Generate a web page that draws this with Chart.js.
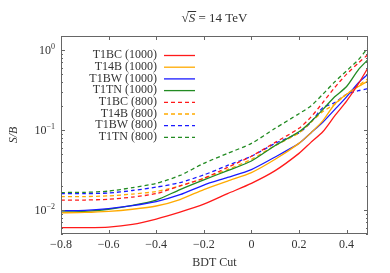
<!DOCTYPE html>
<html>
<head>
<meta charset="utf-8">
<script src="https://cdn.jsdelivr.net/npm/chart.js@4.4.1/dist/chart.umd.min.js"></script>
<style>
  html, body { margin: 0; padding: 0; background: #fff; }
</style>
</head>
<body>
<canvas id="sbChart" width="390" height="273"></canvas>
<script>
// BDT cut values (x) and S/B for each signal sample
const bdtCut   = [-0.8, -0.7, -0.6, -0.5, -0.4, -0.3, -0.2, -0.1, 0, 0.1, 0.2, 0.25, 0.3, 0.35, 0.4, 0.45, 0.49];
const t1bc1000 = [0.0060, 0.0060, 0.0061, 0.0066, 0.0077, 0.0094, 0.0118, 0.0160, 0.0215, 0.031, 0.051, 0.070, 0.095, 0.15, 0.23, 0.38, 0.60];
const t14b1000 = [0.0092, 0.0093, 0.0096, 0.0102, 0.0112, 0.0135, 0.0180, 0.023, 0.0293, 0.043, 0.068, 0.092, 0.13, 0.21, 0.28, 0.35, 0.41];
const t1bw1000 = [0.0098, 0.0099, 0.0104, 0.0113, 0.0127, 0.0155, 0.0205, 0.0255, 0.032, 0.046, 0.068, 0.092, 0.125, 0.18, 0.26, 0.39, 0.50];
const t1tn1000 = [0.0094, 0.0096, 0.0102, 0.0114, 0.0133, 0.0180, 0.0238, 0.031, 0.041, 0.064, 0.095, 0.127, 0.18, 0.26, 0.35, 0.57, 0.76];
const t1bc800  = [0.0133, 0.0133, 0.0136, 0.0145, 0.0160, 0.0200, 0.0249, 0.034, 0.047, 0.070, 0.105, 0.145, 0.22, 0.34, 0.50, 0.69, 0.88];
const t14b800  = [0.0147, 0.0147, 0.0150, 0.0158, 0.0170, 0.0200, 0.0249, 0.032, 0.043, 0.064, 0.092, 0.125, 0.17, 0.21, 0.28, 0.36, 0.44];
const t1bw800  = [0.0160, 0.0160, 0.0163, 0.0175, 0.0193, 0.0220, 0.0274, 0.036, 0.047, 0.068, 0.092, 0.125, 0.19, 0.22, 0.28, 0.31, 0.33];
const t1tn800  = [0.0165, 0.0166, 0.0172, 0.0190, 0.0215, 0.0270, 0.0383, 0.051, 0.068, 0.105, 0.16, 0.20, 0.28, 0.40, 0.55, 0.76, 1.07];

const seriesNames = ['T1BC (1000)', 'T14B (1000)', 'T1BW (1000)', 'T1TN (1000)',
                     'T1BC (800)', 'T14B (800)', 'T1BW (800)', 'T1TN (800)'];
const xTicks = [-0.8, -0.6, -0.4, -0.2, 0, 0.2, 0.4];
const yTicks = [1, 0.1, 0.01];
const yTickExp = ['0', '\u22121', '\u22122'];

const RED = '#ff1a1a', ORANGE = '#ffaa00', BLUE = '#1a1aff', GREEN = '#228b22';
const serif = '"Liberation Serif", "DejaVu Serif", serif';

function toPoints(ys) {
  return bdtCut.map((x, i) => ({ x: x, y: ys[i] }));
}

function makeSet(label, ys, color, dashed) {
  return {
    label: label,
    data: toPoints(ys),
    borderColor: color,
    backgroundColor: color,
    borderWidth: 1.3,
    borderDash: dashed ? [4, 3] : [],
    pointRadius: 0,
    tension: 0.25,
    fill: false
  };
}

function fmtX(v) {
  if (v === 0) return '0';
  const s = Math.abs(v).toFixed(1);
  return (v < 0 ? '\u2212' : '') + s;
}

// frame, inward ticks, labels, title and the legend box
const decorations = {
  id: 'decorations',
  afterDatasetsDraw(chart) {
    const ctx = chart.ctx;
    const area = chart.chartArea;
    const xs = chart.scales.x, ys = chart.scales.y;
    ctx.save();
    ctx.strokeStyle = '#666';
    ctx.lineWidth = 1;
    ctx.strokeRect(area.left + 0.5, area.top + 0.5, area.right - area.left - 1, area.bottom - area.top - 1);

    // x ticks
    ctx.beginPath();
    xTicks.forEach(v => {
      const px = Math.round(xs.getPixelForValue(v)) + 0.5;
      ctx.moveTo(px, area.bottom); ctx.lineTo(px, area.bottom - 4);
      ctx.moveTo(px, area.top); ctx.lineTo(px, area.top + 4);
    });
    // y ticks (major + minor)
    for (let d = -3; d <= 0; d++) {
      for (let k = 1; k <= 9; k++) {
        const v = k * Math.pow(10, d);
        if (v < ys.min || v > ys.max) continue;
        const py = Math.round(ys.getPixelForValue(v)) + 0.5;
        const len = k === 1 ? 4 : 2;
        ctx.moveTo(area.left, py); ctx.lineTo(area.left + len, py);
        ctx.moveTo(area.right, py); ctx.lineTo(area.right - len, py);
      }
    }
    ctx.stroke();

    ctx.fillStyle = '#333';
    // x tick labels
    ctx.font = '12px ' + serif;
    ctx.textAlign = 'center';
    ctx.textBaseline = 'middle';
    xTicks.forEach(v => {
      ctx.fillText(fmtX(v), xs.getPixelForValue(v), area.bottom + 11);
    });
    // x axis title
    ctx.fillText('BDT Cut', (area.left + area.right) / 2, area.bottom + 29);

    // y tick labels 10^n
    yTicks.forEach((v, i) => {
      const py = ys.getPixelForValue(v);
      ctx.font = '8px ' + serif;
      const ew = ctx.measureText(yTickExp[i]).width;
      ctx.textAlign = 'right';
      ctx.textBaseline = 'alphabetic';
      ctx.fillText(yTickExp[i], area.left - 6, py - 1);
      ctx.font = '12px ' + serif;
      ctx.fillText('10', area.left - 6 - ew, py + 4);
    });

    // y axis title
    ctx.save();
    ctx.translate(14, (area.top + area.bottom) / 2);
    ctx.rotate(-Math.PI / 2);
    ctx.font = 'italic 12px ' + serif;
    ctx.textAlign = 'center';
    ctx.textBaseline = 'middle';
    ctx.fillText('S/B', 0, 0);
    ctx.restore();

    // title: sqrt(S) = 14 TeV
    const cx = (area.left + area.right) / 2;
    const ty = 22;
    ctx.font = '13px ' + serif;
    const rad = '\u221A';
    const rest = ' = 14 TeV';
    const rw = ctx.measureText(rad).width;
    const restW = ctx.measureText(rest).width;
    ctx.font = 'italic 13px ' + serif;
    const sw = ctx.measureText('S').width;
    const total = rw + sw + restW;
    let x0 = cx - total / 2;
    ctx.textAlign = 'left';
    ctx.textBaseline = 'alphabetic';
    ctx.font = '13px ' + serif;
    ctx.fillText(rad, x0, ty);
    ctx.font = 'italic 13px ' + serif;
    ctx.fillText('S', x0 + rw, ty);
    ctx.font = '13px ' + serif;
    ctx.fillText(rest, x0 + rw + sw, ty);
    ctx.beginPath();
    ctx.strokeStyle = '#333';
    ctx.moveTo(x0 + rw - 1, ty - 10.5);
    ctx.lineTo(x0 + rw + sw + 1, ty - 10.5);
    ctx.stroke();

    // legend
    const sets = chart.data.datasets;
    ctx.font = '12px ' + serif;
    ctx.textAlign = 'right';
    ctx.textBaseline = 'middle';
    sets.forEach((ds, i) => {
      const ly = 55 + i * 11.7;
      ctx.fillStyle = '#333';
      ctx.fillText(ds.label, 157, ly);
      ctx.beginPath();
      ctx.strokeStyle = ds.borderColor;
      ctx.lineWidth = 1.3;
      ctx.setLineDash(ds.borderDash);
      ctx.moveTo(164, ly + 0.5);
      ctx.lineTo(195, ly + 0.5);
      ctx.stroke();
    });
    ctx.setLineDash([]);
    ctx.restore();
  }
};

const sbChart = new Chart(document.getElementById('sbChart'), {
  type: 'line',
  data: {
    datasets: [
      makeSet(seriesNames[0], t1bc1000, RED, false),
      makeSet(seriesNames[1], t14b1000, ORANGE, false),
      makeSet(seriesNames[2], t1bw1000, BLUE, false),
      makeSet(seriesNames[3], t1tn1000, GREEN, false),
      makeSet(seriesNames[4], t1bc800, RED, true),
      makeSet(seriesNames[5], t14b800, ORANGE, true),
      makeSet(seriesNames[6], t1bw800, BLUE, true),
      makeSet(seriesNames[7], t1tn800, GREEN, true)
    ]
  },
  options: {
    responsive: false,
    devicePixelRatio: 1,
    animation: false,
    layout: { padding: { left: 61, right: 22, top: 36, bottom: 39 } },
    plugins: {
      legend: { display: false },
      title: { display: false },
      tooltip: { enabled: false }
    },
    scales: {
      x: { type: 'linear', min: -0.8, max: 0.49, display: false },
      y: { type: 'logarithmic', min: 0.005, max: 1.5, display: false }
    }
  },
  plugins: [decorations]
});
</script>
</body>
</html>
